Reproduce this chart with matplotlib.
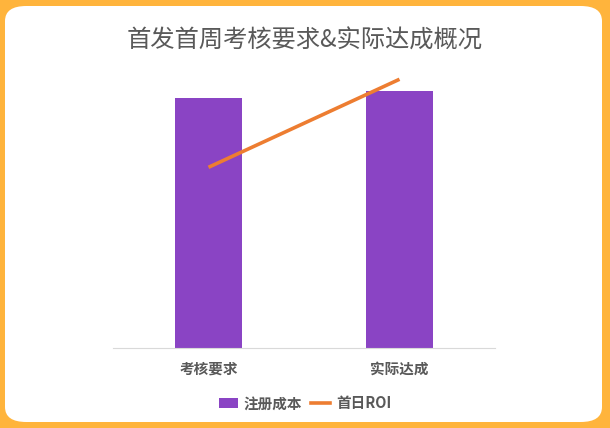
import matplotlib
matplotlib.use("Agg")
import matplotlib.pyplot as plt
from matplotlib.patches import FancyBboxPatch
from matplotlib.lines import Line2D
from matplotlib.patches import Patch

plt.rcParams['font.family'] = ['Noto Sans CJK SC', 'DejaVu Sans']

categories = ["考核要求", "实际达成"]
cost = [36, 37]          # 注册成本
roi = [0.195, 0.29]      # 首日ROI

bar_color = '#8A44C4'
line_color = '#ED7D31'
text_color = '#595959'

fig = plt.figure(figsize=(6.1, 4.28), dpi=100)
fig.patch.set_facecolor('#FFB43C')

# white rounded card over orange frame
card = FancyBboxPatch((5 / 610, 6 / 428), 597 / 610, 416 / 428,
                      boxstyle="round,pad=0,rounding_size=0.035",
                      transform=fig.transFigure, facecolor='white',
                      edgecolor='none', zorder=-5)
fig.patches.append(card)

ax = fig.add_axes([113 / 610, 80 / 428, 382 / 610, 278 / 428])
ax.set_facecolor('none')
x = list(range(len(categories)))
ax.bar(x, cost, width=0.356, color=bar_color, zorder=2)
ax.set_xlim(-0.5, 1.5)
ax.set_ylim(0, 40)
ax.set_xticks(x)
ax.set_xticklabels(categories, fontsize=10.5, fontweight='bold', color=text_color)
ax.tick_params(axis='x', length=0, pad=9)
ax.set_yticks([])
for s in ['top', 'right', 'left']:
    ax.spines[s].set_visible(False)
ax.spines['bottom'].set_color('#D9D9D9')
ax.spines['bottom'].set_linewidth(0.8)

ax2 = ax.twinx()
ax2.plot(x, roi, color=line_color, linewidth=2.6, solid_capstyle='butt', zorder=3)
ax2.set_ylim(0, 0.3)
ax2.set_yticks([])
for s in ['top', 'right', 'left', 'bottom']:
    ax2.spines[s].set_visible(False)

fig.text(0.5, 0.905, "首发首周考核要求&实际达成概况", ha='center', va='center',
         fontsize=17.5, color=text_color)

handles = [Patch(facecolor=bar_color, edgecolor='none'),
           Line2D([0], [0], color=line_color, linewidth=2.6)]
leg = fig.legend(handles, ["注册成本", "首日ROI"], loc='center',
                 bbox_to_anchor=(0.5, 0.058), ncol=2, frameon=False,
                 handlelength=1.3, handletextpad=0.4, columnspacing=0.6,
                 prop={'size': 10.5, 'weight': 'bold'})
for t in leg.get_texts():
    t.set_color(text_color)

fig.savefig("out.png", dpi=100, facecolor=fig.get_facecolor())
